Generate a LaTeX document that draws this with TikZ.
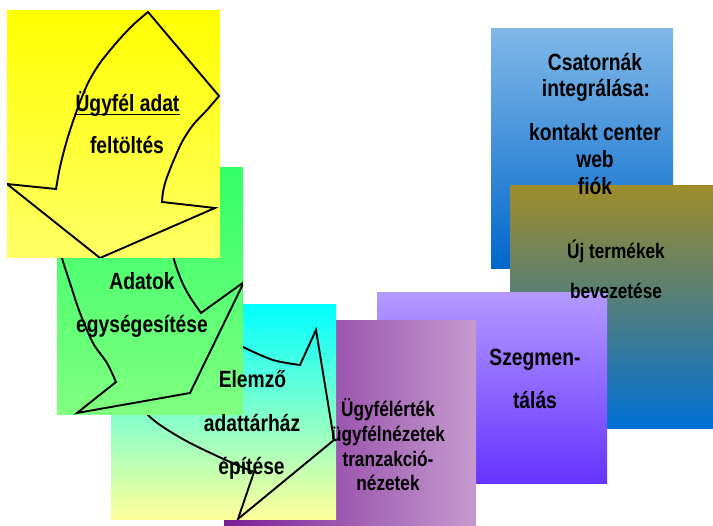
\documentclass[tikz,border=0pt]{standalone}
\usepackage{fontspec}
\setmainfont{Liberation Sans}[FakeStretch=0.82]

% tile colours
\definecolor{loadTop}{HTML}{FFFF00}
\definecolor{loadBot}{HTML}{FFFF66}
\definecolor{uniTop}{HTML}{33FF66}
\definecolor{uniBot}{HTML}{80FF80}
\definecolor{whTop}{HTML}{00FFFF}
\definecolor{whMid}{HTML}{40FFC8}
\definecolor{whBot}{HTML}{FFFF99}
\definecolor{viewL}{HTML}{7A1E96}
\definecolor{viewR}{HTML}{C59BCE}
\definecolor{segTop}{HTML}{B399FF}
\definecolor{segBot}{HTML}{6633FF}
\definecolor{prodTop}{HTML}{9E8C2A}
\definecolor{prodBot}{HTML}{0070D6}
\definecolor{chanTop}{HTML}{80B8E8}
\definecolor{chanBot}{HTML}{0066CC}

\begin{document}
\begin{tikzpicture}[x=1pt,y=-1pt,
  arrowline/.style={draw=black, line width=1.9pt, line join=miter},
  lbl/.style={anchor=base, inner sep=0pt, text=black,
              font=\bfseries\fontsize{23.5}{27}\selectfont},
  lblsm/.style={lbl, font=\bfseries\fontsize{21}{24}\selectfont}]
\useasboundingbox (0,0) rectangle (713,526);
\clip (0,0) rectangle (713,526);

% channel integration tile
\shade[top color=chanTop, bottom color=chanBot] (491,29) rectangle (673,269);
% new products tile
\shade[top color=prodTop, bottom color=prodBot] (510,186) rectangle (720,429);
% segmentation tile
\shade[top color=segTop, bottom color=segBot] (377,293) rectangle (607,484);
% customer views tile
\shade[left color=viewL, right color=viewR] (224,321) rectangle (476,540);

% data warehouse tile with its curved arrow
\shade[top color=whTop, middle color=whMid, bottom color=whBot] (111,305) rectangle (336,520);
\begin{scope}
  \clip (111,305) rectangle (336,520);
  \draw[arrowline]
    plot[smooth] coordinates {(122,372) (133,396) (148,415) (163,427) (190,443) (230,462) (254,472)}
    -- (238,519) -- (334,440) -- (316,330) -- (300,365)
    -- plot[smooth] coordinates {(300,365) (273,360) (243,347) (215,332) (192,314)}
    -- cycle;
\end{scope}

% data unification tile with its curved arrow
\shade[top color=uniTop, bottom color=uniBot] (57,168) rectangle (243,415);
\begin{scope}
  \clip (57,168) rectangle (243,415);
  \draw[arrowline]
    plot[smooth] coordinates {(56,212) (58,238) (62,258) (70,283) (80,313) (93,343) (107,363) (116,382)}
    -- (77,413) -- (190,393) -- (244,282) -- (201,313)
    -- plot[smooth] coordinates {(201,313) (190,297) (182,282) (175,263) (171,245) (170,215)}
    -- (118,172) -- cycle;
\end{scope}

% customer data load tile with its curved arrow
\shade[top color=loadTop, bottom color=loadBot] (7,11) rectangle (220,258);
\begin{scope}
  \clip (7,11) rectangle (220,258);
  \draw[arrowline]
    (148,12) -- (219,96)
    -- plot[smooth] coordinates {(219,96) (207,110) (193,125) (182,142) (173,162) (166,180) (163,192) (162,202)}
    -- (215,208) -- (100,258) -- (7,184) -- (56,189)
    -- plot[smooth] coordinates {(56,189) (60,167) (67,140) (77,110) (88,83) (100,63) (117,42) (133,25) (148,12)}
    -- cycle;
\end{scope}

% labels
\node[lbl] (load1) at (127.5,112) {Ügyfél adat};
\draw[line width=1.4pt] ([yshift=-2.6pt]load1.base west) -- ([yshift=-2.6pt]load1.base east);
\node[lbl] (load2) at (127,154) {feltöltés};

\node[lbl] (uni1) at (142,290) {Adatok};
\node[lbl] (uni2) at (142,333) {egységesítése};

\node[lbl] (wh1) at (252.5,388) {Elemző};
\node[lbl] (wh2) at (252,432) {adattárház};
\node[lbl] (wh3) at (251.5,475) {építése};

\node[lblsm] (view1) at (388,417) {Ügyfélérték};
\node[lblsm] (view2) at (388,442) {ügyfélnézetek};
\node[lblsm] (view3) at (388,467) {tranzakció-};
\node[lblsm] (view4) at (388,491) {nézetek};

\node[lbl] (seg1) at (535,366) {Szegmen-};
\node[lbl] (seg2) at (535,409) {tálás};

\node[lblsm] (prod1) at (616,259) {Új termékek};
\node[lblsm] (prod2) at (616,299) {bevezetése};

\node[lbl] (chan1) at (595,71) {Csatornák};
\node[lbl] (chan2) at (596,97) {integrálása:};
\node[lbl] (chan3) at (595,141) {kontakt center};
\node[lbl] (chan4) at (595,168) {web};
\node[lbl] (chan5) at (595,195) {fiók};
\end{tikzpicture}
\end{document}
